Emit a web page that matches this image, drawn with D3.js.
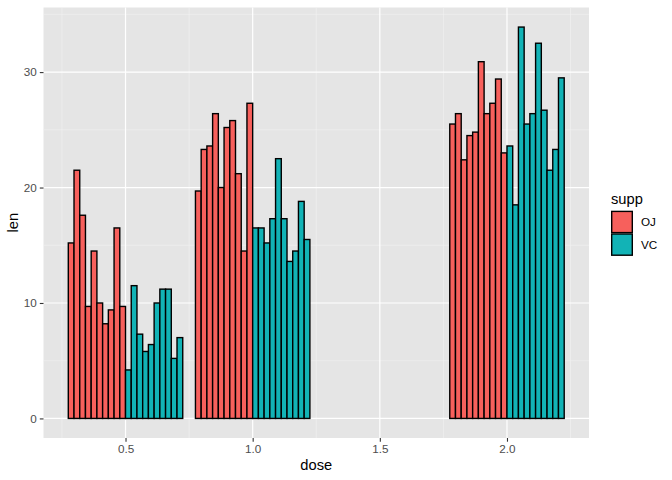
<!DOCTYPE html>
<html>
<head>
<meta charset="utf-8">
<script src="https://cdn.jsdelivr.net/npm/d3@7"></script>
<style>
  body { margin: 0; background: #fff; }
  text { font-family: "Liberation Sans", Arial, sans-serif; }
</style>
</head>
<body>
<div id="chart"></div>
<script>
// ToothGrowth, one bar per guinea pig, dodged inside each dose
var doses = [0.5, 1, 2];
var suppLevels = ["OJ", "VC"];
var ojLen = [
  [15.2, 21.5, 17.6, 9.7, 14.5, 10, 8.2, 9.4, 16.5, 9.7],
  [19.7, 23.3, 23.6, 26.4, 20, 25.2, 25.8, 21.2, 14.5, 27.3],
  [25.5, 26.4, 22.4, 24.5, 24.8, 30.9, 26.4, 27.3, 29.4, 23]
];
var vcLen = [
  [4.2, 11.5, 7.3, 5.8, 6.4, 10, 11.2, 11.2, 5.2, 7],
  [16.5, 16.5, 15.2, 17.3, 22.5, 17.3, 13.6, 14.5, 18.8, 15.5],
  [23.6, 18.5, 33.9, 25.5, 26.4, 32.5, 26.7, 21.5, 23.3, 29.5]
];
var xTicks = [0.5, 1.0, 1.5, 2.0];
var xMinor = [0.25, 0.75, 1.25, 1.75, 2.25];
var yTicks = [0, 10, 20, 30];
var yMinor = [5, 15, 25, 35];

var colors = { OJ: "#F7605C", VC: "#12B3B6" };

var W = 672, H = 480,
    margin = {top: 7.5, right: 83, bottom: 42, left: 43.5},
    width = W - margin.left - margin.right,
    height = H - margin.top - margin.bottom;

// build rows
var rows = [];
var groupWidth = 0.45;
doses.forEach(function(d, di) {
  var vals = ojLen[di].map(function(v) { return {supp: "OJ", len: v}; })
    .concat(vcLen[di].map(function(v) { return {supp: "VC", len: v}; }));
  var bw = groupWidth / vals.length;
  vals.forEach(function(r, i) {
    rows.push({dose: d, supp: r.supp, len: r.len,
               x0: d - groupWidth / 2 + i * bw, x1: d - groupWidth / 2 + (i + 1) * bw});
  });
});

var xmin = d3.min(rows, function(d) { return d.x0; }),
    xmax = d3.max(rows, function(d) { return d.x1; }),
    xpad = (xmax - xmin) * 0.05;
var ymax = d3.max(rows, function(d) { return d.len; }),
    ypad = ymax * 0.05;

var x = d3.scaleLinear().domain([xmin - xpad, xmax + xpad]).range([0, width]);
var y = d3.scaleLinear().domain([-ypad, ymax + ypad]).range([height, 0]);

var svg = d3.select("#chart").append("svg")
    .attr("width", W).attr("height", H);

var g = svg.append("g")
    .attr("transform", "translate(" + margin.left + "," + margin.top + ")");

g.append("rect").attr("width", width).attr("height", height).attr("fill", "#E5E5E5");

// minor grid
g.selectAll(".xminor").data(xMinor).enter().append("line")
  .attr("x1", function(d) { return x(d); }).attr("x2", function(d) { return x(d); })
  .attr("y1", 0).attr("y2", height)
  .attr("stroke", "#F2F2F2").attr("stroke-width", 0.6);
g.selectAll(".yminor").data(yMinor).enter().append("line")
  .attr("y1", function(d) { return y(d); }).attr("y2", function(d) { return y(d); })
  .attr("x1", 0).attr("x2", width)
  .attr("stroke", "#F2F2F2").attr("stroke-width", 0.6);
// major grid
g.selectAll(".xmajor").data(xTicks).enter().append("line")
  .attr("x1", function(d) { return x(d); }).attr("x2", function(d) { return x(d); })
  .attr("y1", 0).attr("y2", height)
  .attr("stroke", "#fff").attr("stroke-width", 1.2);
g.selectAll(".ymajor").data(yTicks).enter().append("line")
  .attr("y1", function(d) { return y(d); }).attr("y2", function(d) { return y(d); })
  .attr("x1", 0).attr("x2", width)
  .attr("stroke", "#fff").attr("stroke-width", 1.2);

// bars
g.selectAll(".bar").data(rows).enter().append("rect")
  .attr("x", function(d) { return x(d.x0); })
  .attr("width", function(d) { return x(d.x1) - x(d.x0); })
  .attr("y", function(d) { return y(d.len); })
  .attr("height", function(d) { return y(0) - y(d.len); })
  .attr("fill", function(d) { return colors[d.supp]; })
  .attr("stroke", "#000").attr("stroke-width", 1.4);

// axes
var xAxis = d3.axisBottom(x).tickValues(xTicks).tickFormat(d3.format(".1f")).tickSizeOuter(0).tickSize(3.7).tickPadding(3);
var yAxis = d3.axisLeft(y).tickValues(yTicks).tickSizeOuter(0).tickSize(3.7).tickPadding(3);

var gx = g.append("g").attr("transform", "translate(0," + height + ")").call(xAxis);
var gy = g.append("g").call(yAxis);
[gx, gy].forEach(function(a) {
  a.select(".domain").remove();
  a.selectAll(".tick line").attr("stroke", "#333333").attr("stroke-width", 1.1);
  a.selectAll(".tick text").attr("fill", "#4D4D4D").style("font-size", "11.7px")
    .style("font-family", "Liberation Sans, Arial, sans-serif");
});

// axis titles
svg.append("text")
  .attr("x", margin.left + width / 2).attr("y", 470)
  .attr("text-anchor", "middle").style("font-size", "14.7px").attr("fill", "#000")
  .text("dose");
svg.append("text")
  .attr("transform", "translate(18," + (margin.top + height / 2) + ") rotate(-90)")
  .attr("text-anchor", "middle").style("font-size", "14.7px").attr("fill", "#000")
  .text("len");

// legend
var lg = svg.append("g").attr("transform", "translate(611,0)");
lg.append("text").attr("x", 0).attr("y", 204).style("font-size", "14.7px").text("supp");
var keys = lg.selectAll(".key").data(suppLevels).enter().append("g")
  .attr("transform", function(d, i) { return "translate(0," + (210.7 + i * 22.6) + ")"; });
keys.append("rect").attr("x", 0.7).attr("y", 0.7).attr("width", 20.6).attr("height", 21.2)
  .attr("fill", function(d) { return colors[d]; })
  .attr("stroke", "#000").attr("stroke-width", 1.4);
keys.append("text").attr("x", 30).attr("y", 11.3).attr("dy", "0.35em")
  .style("font-size", "11.7px").attr("fill", "#000")
  .text(function(d) { return d; });
</script>
</body>
</html>
